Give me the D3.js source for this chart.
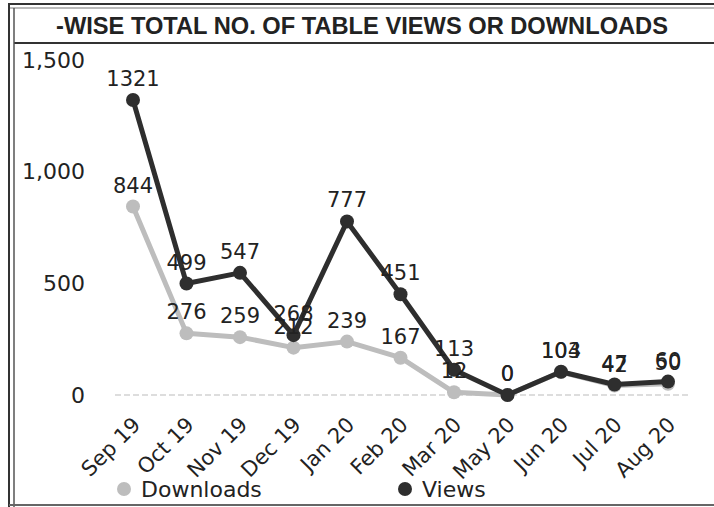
<!DOCTYPE html>
<html><head><meta charset="utf-8">
<script src="https://cdn.jsdelivr.net/npm/d3@7"></script>
<style>body{margin:0;background:#fff}svg{display:block}</style>
</head><body>
<script>
const categories = ["Sep 19","Oct 19","Nov 19","Dec 19","Jan 20","Feb 20","Mar 20","May 20","Jun 20","Jul 20","Aug 20"];
const downloads = [844,276,259,212,239,167,12,0,103,42,50];
const views = [1321,499,547,268,777,451,113,0,104,47,60];
const yTicks = [0,500,1000,1500];
const title = "-WISE TOTAL NO. OF TABLE VIEWS OR DOWNLOADS";

const W=714,H=507;
const svg=d3.select("body").append("svg").attr("width",W).attr("height",H);
// frame
svg.append("line").attr("x1",8).attr("x2",W).attr("y1",4).attr("y2",4).attr("stroke","#333").attr("stroke-width",2);
svg.append("line").attr("x1",8).attr("x2",W).attr("y1",8).attr("y2",8).attr("stroke","#777").attr("stroke-width",1);
svg.append("line").attr("x1",14).attr("x2",W).attr("y1",43).attr("y2",43).attr("stroke","#333").attr("stroke-width",2);
svg.append("line").attr("x1",9).attr("x2",9).attr("y1",4).attr("y2",H).attr("stroke","#333").attr("stroke-width",2);
svg.append("line").attr("x1",14).attr("x2",14).attr("y1",8).attr("y2",H).attr("stroke","#555").attr("stroke-width",1.5);
svg.append("line").attr("x1",9).attr("x2",W).attr("y1",H-2).attr("y2",H-2).attr("stroke","#666").attr("stroke-width",2);
svg.append("text").attr("x",362).attr("y",34).attr("text-anchor","middle")
  .attr("font-family","Liberation Sans, Arial, sans-serif").attr("font-weight","bold").attr("font-size",23)
  .attr("fill","#222").attr("textLength",612).attr("lengthAdjust","spacingAndGlyphs").text(title);

const x=d3.scalePoint().domain(categories).range([133,668]);
const y=d3.scaleLinear().domain([0,1500]).range([395,60]);
const font="DejaVu Sans, Verdana, sans-serif";

// y axis
const ya=svg.append("g").attr("transform","translate(85,0)")
  .call(d3.axisLeft(y).tickValues(yTicks).tickSize(0).tickPadding(0).tickFormat(d3.format(",")));
ya.select(".domain").remove();
ya.selectAll("text").attr("font-family",font).attr("font-size",22).attr("fill","#222");
// baseline
svg.append("line").attr("x1",115).attr("x2",690).attr("y1",y(0)).attr("y2",y(0))
  .attr("stroke","#bbb").attr("stroke-width",1).attr("stroke-dasharray","6,3");

// x axis
const xa=svg.append("g").attr("transform",`translate(0,${y(0)+17})`)
  .call(d3.axisBottom(x).tickSize(0).tickPadding(0));
xa.select(".domain").remove();
xa.selectAll("text").attr("font-family",font).attr("font-size",21).attr("fill","#222")
  .attr("text-anchor","end").attr("dy","0.75em").attr("dx","-0.2em")
  .attr("transform","rotate(-45)");

const line=d3.line().x((d,i)=>x(categories[i])).y(d=>y(d));
function series(vals,color){
  svg.append("path").datum(vals).attr("d",line).attr("fill","none").attr("stroke",color)
    .attr("stroke-width",5).attr("stroke-linejoin","round");
  svg.selectAll(null).data(vals).enter().append("circle")
    .attr("cx",(d,i)=>x(categories[i])).attr("cy",d=>y(d)).attr("r",7).attr("fill",color);
}
function labels(vals){
  svg.selectAll(null).data(vals).enter().append("text")
    .attr("x",(d,i)=>x(categories[i])).attr("y",d=>y(d)-14).attr("text-anchor","middle")
    .attr("font-family",font).attr("font-size",21).attr("fill","#222").text(d=>d);
}
series(downloads,"#bdbdbd");
series(views,"#2e2e2e");
labels(downloads);
labels(views);

// legend
const leg=[["Downloads","#bdbdbd",124],["Views","#2e2e2e",405]];
leg.forEach(([t,c,lx])=>{
  svg.append("circle").attr("cx",lx).attr("cy",489).attr("r",7).attr("fill",c);
  svg.append("text").attr("x",lx+17).attr("y",497).attr("font-family",font).attr("font-size",22).attr("fill","#222").text(t);
});
</script>
</body></html>
